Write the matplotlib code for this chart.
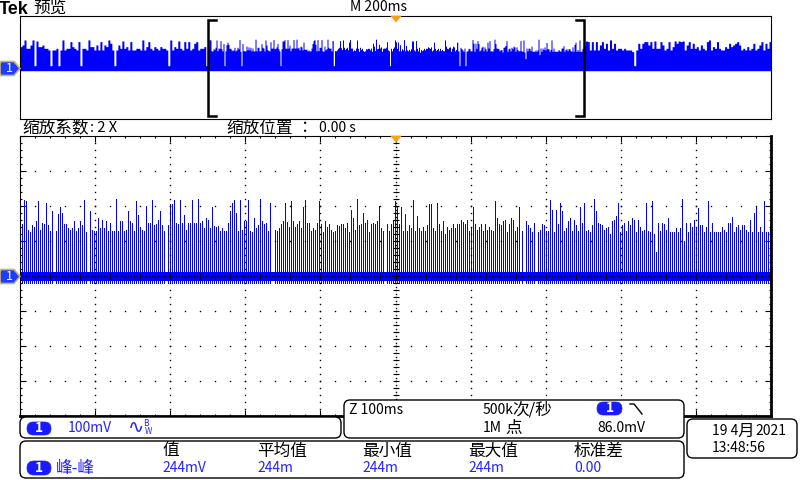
import numpy as np
import matplotlib.pyplot as plt
from matplotlib.patches import FancyBboxPatch, Polygon

plt.rcParams['font.family'] = ['Noto Sans CJK SC', 'DejaVu Sans']

TRACE = '#0000ff'
TEXT_BLUE = '#2323ff'
BADGE = '#1a1aff'

# spike heights in the zoomed window (mV), left to right, 0 = no spike
spikes_a = [150, 217, 214, 131, 127, 146, 141, 157, 214, 131,
            151, 149, 209, 146, 129, 186, 0, 129, 177, 197,
            180, 149, 149, 137, 131, 137, 157, 129, 137, 157,
            146, 217, 126, 0, 186, 131, 129, 129, 166, 137,
            160, 137, 157, 129, 151, 129, 129, 220, 129, 157,
            157, 129, 131, 186, 157, 151, 129, 214, 174, 140,
            131, 129, 200, 151, 151, 217, 146, 149, 160, 186,
            146, 129, 0, 146, 206, 206, 217, 151, 149, 217,
            151, 174, 131, 151, 151, 217, 151, 151, 220, 151,
            157, 137, 166, 160, 137, 197, 143, 140, 143, 129,
            137, 129, 129, 151, 186, 209, 217, 180, 129, 217,
            131, 157, 157, 217, 129, 126, 166, 137, 146, 220,
            157, 149, 151]
spikes_b = [129, 209, 0, 131, 129, 137, 149, 157, 209, 154,
            140, 214, 157, 140, 149, 157, 137, 197, 217, 151,
            151, 129, 137, 131, 151, 214, 149, 126, 157, 140,
            149, 131, 126, 129, 146, 143, 149, 149, 137, 151,
            126, 189, 166, 131, 220, 146, 149, 180, 151, 160,
            126, 149, 151, 149, 157, 200, 137, 129, 0, 149,
            129, 149, 160, 214, 200, 149, 197, 129, 177, 129,
            146, 137, 217, 129, 171, 137, 129, 140, 129, 146,
            206, 206, 137, 129, 209, 149, 129, 157, 120, 140,
            131, 137, 149, 137, 149, 149, 160, 154, 149, 160,
            129, 137, 197, 149, 131, 140, 149, 129, 149, 131,
            140, 131, 129, 214, 166, 149, 146, 157, 160, 126,
            149, 166, 160, 129, 140, 197, 129]
spikes_c = [0, 157, 146, 137, 126, 151, 0, 126, 131, 149,
            146, 129, 129, 217, 189, 126, 189, 149, 209, 186,
            129, 137, 157, 166, 129, 160, 146, 129, 197, 151,
            209, 129, 131, 126, 146, 220, 186, 151, 149, 146,
            131, 137, 140, 120, 157, 160, 171, 209, 126, 146,
            151, 129, 157, 146, 166, 160, 126, 160, 140, 129,
            131, 209, 129, 126, 214, 120, 69, 151, 129, 151,
            149, 131, 166, 126, 126, 126, 137, 126, 137, 220,
            100, 151, 126, 151, 140, 160, 137, 194, 146, 146,
            126, 140, 214, 126, 151, 126, 126, 126, 126, 140,
            131, 126, 151, 151, 169, 126, 140, 146, 131, 146,
            146, 131, 126, 160, 126, 180, 197, 126, 140, 126,
            214, 126, 126, 149]

# preview envelope outside the zoom bracket (mV)
preview_left = [162, 175, 214, 149, 149, 175, 214, 14, 206, 162,
                162, 175, 149, 149, 136, 14, 136, 136, 149, 14,
                136, 214, 136, 149, 149, 201, 162, 149, 136, 201,
                14, 149, 149, 136, 214, 162, 162, 136, 175, 136,
                201, 136, 175, 162, 214, 188, 136, 14, 136, 175,
                149, 206, 149, 162, 136, 201, 136, 136, 149, 149,
                136, 214, 136, 162, 201, 149, 136, 162, 149, 136,
                162, 149, 149, 136, 14, 214, 136, 162, 149, 206,
                149, 136, 201, 149, 201, 136, 149, 188, 201, 136,
                149, 149, 162, 14]
preview_right = [175, 206, 201, 136, 201, 136, 201, 136, 175, 201,
                 149, 188, 136, 214, 149, 188, 136, 149, 149, 136,
                 149, 136, 136, 136, 123, 14, 136, 188, 149, 188,
                 201, 201, 175, 201, 149, 206, 149, 149, 201, 175,
                 136, 149, 201, 136, 162, 206, 188, 206, 201, 206,
                 136, 175, 201, 149, 188, 149, 162, 136, 175, 149,
                 136, 201, 214, 136, 162, 149, 201, 149, 136, 136,
                 162, 149, 188, 162, 175, 188, 201, 175, 136, 149,
                 136, 162, 136, 149, 188, 136, 149, 175, 201, 136,
                 188, 149, 201]

band_low, band_high = -14, 12
spike_floor = -19
preview_floor = -25
gap_level = 14

meas_headers = ['值', '平均值', '最小值', '最大值', '标准差']
meas_values = ['244mV', '244m', '244m', '244m', '0.00']
meas_cols = [162, 257, 362, 468, 574]

CJK = 12

fig = plt.figure(figsize=(8, 4.8), dpi=100)


# axes placed with pixel coordinates of the screen
def px_axes(x0, y0, x1, y1):
    return fig.add_axes([x0 / 800, 1 - y1 / 480, (x1 - x0) / 800, (y1 - y0) / 480])


ax_prev = px_axes(20, 16, 771, 119)
ax_main = px_axes(20, 136, 771, 416)
main_px = 751  # screen columns across the 10 divisions

# ---- main zoomed trace
spikes = np.array(spikes_a + spikes_b + spikes_c, dtype=float)
n = len(spikes)
# one spike per sample, snapped onto screen columns like the scope does
cols = np.floor((np.arange(n) + 0.5) * main_px / n) + 0.5
t = cols * 10 / main_px
ax_main.fill_between([0, 10], band_low, band_high, color=TRACE, lw=0, zorder=2)
keep = spikes > 0
ax_main.vlines(t[keep], spike_floor, spikes[keep], color=TRACE, lw=0.4,
               antialiased=False, zorder=2)

ax_main.set_xlim(0, 10)
ax_main.set_ylim(-400, 400)
minor_x = np.arange(0, 10.001, 0.2)
minor_y = np.arange(-400, 401, 20)
ax_main.set_xticks(range(11))
ax_main.set_xticks(minor_x, minor=True)
ax_main.set_yticks(range(-400, 401, 100))
ax_main.set_yticks(minor_y, minor=True)
ax_main.tick_params(which='both', direction='in', top=True, right=True,
                    labelbottom=False, labelleft=False, width=0.8, color='k')
ax_main.tick_params(which='major', length=4.5)
ax_main.tick_params(which='minor', length=1.6)
ax_main.spines['right'].set_linewidth(2)
ax_main.spines['bottom'].set_linewidth(2)

# dotted graticule
gx, gy = [], []
for v in [1, 2, 3, 4, 6, 7, 8, 9]:
    gx += [v] * len(minor_y)
    gy += list(minor_y)
for h in [-300, -200, -100, 100, 200, 300]:
    gx += list(minor_x)
    gy += [h] * len(minor_x)
ax_main.plot(gx, gy, 's', ms=1, mew=0, color='k', zorder=3)

# centre crosshair
cy = np.arange(-400, 401, 10)
cx = np.arange(0, 10.001, 0.04)
ax_main.plot(np.full(len(cy), 5), cy, 's', ms=1, mew=0, color='k', zorder=3)
ax_main.plot(cx, np.zeros(len(cx)), 's', ms=1, mew=0, color='k', zorder=3)
ax_main.plot(np.full(len(minor_y), 5), minor_y, '_', ms=4, mew=0.8, color='k', zorder=3)
ax_main.plot(minor_x, np.zeros(len(minor_x)), '|', ms=4, mew=0.8, color='k', zorder=3)

# ---- preview of the whole record
left_x = (np.arange(len(preview_left)) + 0.5) * 2.5 / len(preview_left)
mid_x = 2.5 + t / 2
right_x = 7.5 + (np.arange(len(preview_right)) + 0.5) * 2.5 / len(preview_right)
pv_x = np.concatenate([[0], left_x, mid_x, right_x, [10]])
pv_y = np.concatenate([[preview_left[0]], preview_left, spikes, preview_right, [preview_right[-1]]])
pv_y = np.maximum(pv_y, gap_level)
ax_prev.fill_between(pv_x, preview_floor, pv_y, step='mid', color=TRACE, lw=0,
                     antialiased=False)
ax_prev.set_xlim(0, 10)
ax_prev.set_ylim(-400, 400)
ax_prev.set_xticks([])
ax_prev.set_yticks([])

# ---- overlay in screen pixels
ov = fig.add_axes([0, 0, 1, 1], facecolor='none')
ov.set_xlim(0, 800)
ov.set_ylim(480, 0)
ov.axis('off')


def label(x, y, s, color='k', size=10, **kw):
    ov.text(x, y, s, color=color, fontsize=size, ha='left', va='center', **kw)


def panel(x0, y0, x1, y1, r=6):
    ov.add_patch(FancyBboxPatch((x0, y0), x1 - x0, y1 - y0,
                                boxstyle=f'round,pad=0,rounding_size={r}',
                                fc='white', ec='k', lw=1))


def badge(x0, y0, x1, y1):
    r = (y1 - y0) / 2
    ov.add_patch(FancyBboxPatch((x0, y0), x1 - x0, y1 - y0,
                                boxstyle=f'round,pad=0,rounding_size={r}',
                                fc=BADGE, ec=BADGE, lw=0.5))
    ov.text((x0 + x1) / 2, (y0 + y1) / 2, '1', color='white', fontsize=10,
            fontweight='bold', ha='center', va='center')


def ground_marker(yc):
    pts = [(1, yc - 7), (14, yc - 7), (20, yc), (14, yc + 7), (1, yc + 7),
           (0, yc + 5), (0, yc - 5)]
    ov.add_patch(Polygon(pts, closed=True, fc='#1e3cff', ec='#c8b46e', lw=1.2))
    ov.text(9, yc, '1', color='white', ha='center', va='center', fontsize=9)


def trig_marker(ytop):
    ov.add_patch(Polygon([(391, ytop), (401, ytop), (396, ytop + 6)], closed=True,
                         fc='#f7a01c', ec='#f7a01c', lw=0.5))


# header
ov.text(-1, 9, 'Tek', fontsize=13, fontweight='bold', family='Liberation Sans',
        ha='left', va='center')
label(33, 8, '预览', size=CJK)
label(350, 7, 'M 200ms')
trig_marker(16)
trig_marker(136)
ground_marker(68.5)
ground_marker(276.5)

# zoom bracket
ov.plot([216, 208, 208, 216], [20, 20, 116, 116], color='k', lw=1.8,
        solid_joinstyle='miter')
ov.plot([576, 584, 584, 576], [20, 20, 116, 116], color='k', lw=1.8,
        solid_joinstyle='miter')

label(22, 128, '缩放系数', size=CJK)
label(90, 128, ': 2 X', size=10.5)
label(226, 128, '缩放位置', size=CJK)
label(300, 128, '：', size=CJK)
label(319, 128, '0.00 s', size=10)

# channel box
panel(20, 417, 341, 438)
badge(27, 422, 51, 435)
label(68, 428, '100mV', color=TEXT_BLUE)
ov.text(128, 428, '∿', color=TEXT_BLUE, fontsize=14, family='DejaVu Sans',
        ha='left', va='center')
ov.text(143, 423, 'B', color=TEXT_BLUE, fontsize=6, ha='left', va='center')
ov.text(145, 431, 'W', color=TEXT_BLUE, fontsize=6, ha='left', va='center')

# timebase / trigger box
panel(344, 400, 684, 438)
label(349, 410, 'Z 100ms')
label(483, 410, '500k', size=10)
label(512, 410, '次/秒', size=CJK)
badge(597, 402, 622, 415)
ov.plot([630, 634, 642], [404, 404, 414], color='k', lw=1)
label(483, 428, '1M', size=10)
label(505, 428, '点', size=CJK)
label(597, 428, '86.0mV')

# measurement box
panel(20, 441, 684, 478)
for col, head, val in zip(meas_cols, meas_headers, meas_values):
    label(col, 451, head, size=CJK)
    label(col, 468, val, color=TEXT_BLUE)
badge(27, 461, 51, 475)
label(56, 468, '峰-峰', color=TEXT_BLUE, size=CJK)

# date box
panel(687, 419, 797, 458)
label(712, 431, '19 4', size=10)
label(737, 431, '月', size=CJK)
label(755, 431, '2021', size=10)
label(712, 448, '13:48:56')

fig.savefig('out.png', dpi=100)
